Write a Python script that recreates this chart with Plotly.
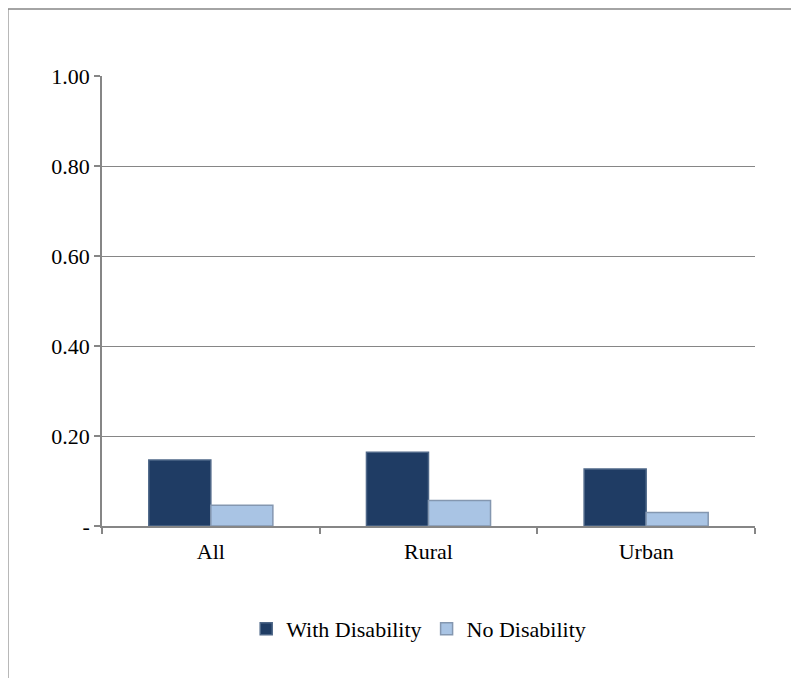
import plotly.graph_objects as go

categories = ["All", "Rural", "Urban"]
with_disability = [0.147, 0.164, 0.127]
no_disability = [0.046, 0.057, 0.030]
y_ticks = [0, 0.2, 0.4, 0.6, 0.8, 1.0]
y_labels = ["-", "0.20", "0.40", "0.60", "0.80", "1.00"]

font = dict(family="Liberation Serif, Times New Roman, serif", size=22, color="black")
grey = "#868686"

fig = go.Figure()
fig.add_trace(go.Bar(x=categories, y=with_disability, name="With Disability",
                     marker=dict(color="#1F3C64", line=dict(color="#4E6788", width=1.5))))
fig.add_trace(go.Bar(x=categories, y=no_disability, name="No Disability",
                     marker=dict(color="#A9C4E4", line=dict(color="#8497B0", width=1.5))))

# page body adds 8px offset, so the figure is laid out 8px smaller
fig.update_layout(
    width=791, height=670,
    margin=dict(l=94, r=44, t=68, b=152),
    paper_bgcolor="white", plot_bgcolor="white",
    font=font,
    barmode="group", bargap=0.43, bargroupgap=0,
    showlegend=True,
    legend=dict(orientation="h", x=0.485, xanchor="center", y=-0.229, yanchor="middle",
                font=font, traceorder="normal"),
    shapes=[dict(type="rect", xref="paper", yref="paper",
                 x0=-0.1442, x1=1.3, y0=-0.6, y1=1.149,
                 line=dict(color=grey, width=1.5), fillcolor="rgba(0,0,0,0)", layer="below")],
)
fig.update_xaxes(showline=True, linecolor=grey, linewidth=1.5, ticks="outside",
                 tickson="boundaries", ticklen=6, tickcolor=grey, tickwidth=1.5,
                 showgrid=False, tickfont=font, ticklabelstandoff=5)
fig.update_yaxes(range=[0, 1.001], tickvals=y_ticks, ticktext=y_labels,
                 showline=True, linecolor=grey, linewidth=1.5, ticks="outside",
                 ticklen=6, tickcolor=grey, tickwidth=1.5,
                 showgrid=True, gridcolor=grey, gridwidth=1.2, zeroline=False,
                 tickfont=font)

fig.write_html("out.html")
